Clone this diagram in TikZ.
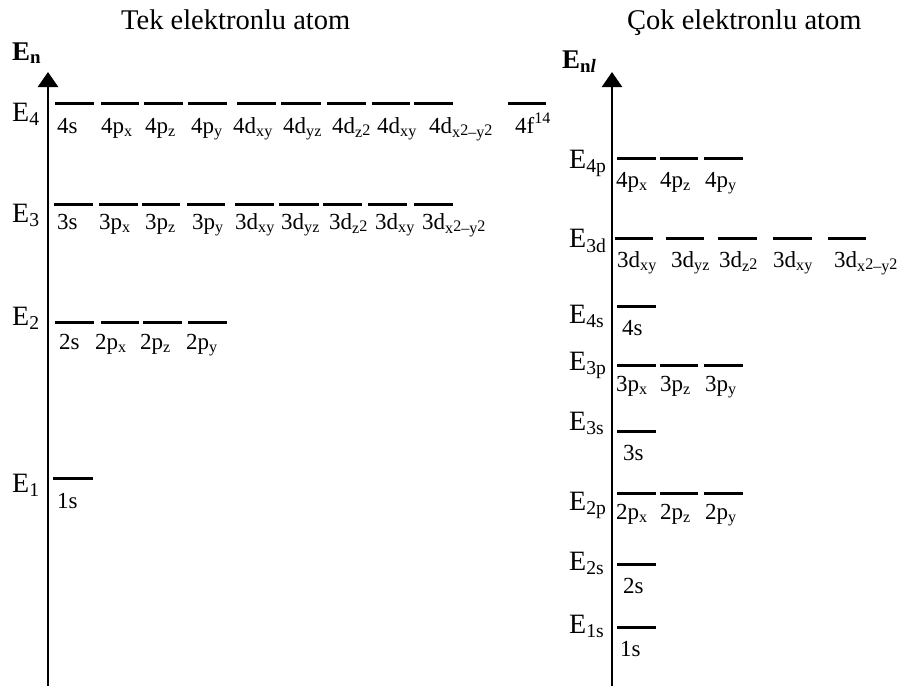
\documentclass[tikz,border=0pt]{standalone}
\usepackage{fontspec}
\setmainfont{Liberation Serif}
\usetikzlibrary{arrows.meta}
\newcommand\lo[1]{\textsubscript{#1}}
\newcommand\hi[1]{\textsuperscript{#1}}
\newcommand\ztw{\lo{z\raisebox{0.15em}{2}}}
\newcommand\xtw{\lo{x\raisebox{0.15em}{2}–y\raisebox{0.15em}{2}}}
\tikzset{
  lvl/.style={line width=3pt},
  axisline/.style={line width=2.4pt,-{Triangle[width=20pt,length=15pt]}},
  orb/.style={anchor=base west,inner sep=0pt,font=\fontsize{23}{27}\selectfont},
  elab/.style={anchor=base west,inner sep=0pt,font=\fontsize{28}{32}\selectfont},
  ttl/.style={anchor=base west,inner sep=0pt,font=\fontsize{28.5}{33}\selectfont},
  axl/.style={anchor=base west,inner sep=0pt,font=\fontsize{27}{31}\selectfont\bfseries}
}
\begin{document}
\begin{tikzpicture}[x=1pt,y=-1pt]
\useasboundingbox (0,0) rectangle (902,686);
% titles
\node[ttl] (t1) at (121,29) {Tek elektronlu atom};
\node[ttl] (t2) at (627,29) {Çok elektronlu atom};
% axes
\coordinate (a1b) at (48,686); \coordinate (a1t) at (48,72);
\coordinate (a2b) at (612,686); \coordinate (a2t) at (612,72);
\draw[axisline] (a1b) -- (a1t);
\draw[axisline] (a2b) -- (a2t);
\node[axl] (en) at (12,60) {E\lo{n}};
\node[axl] (enl) at (562,68) {E\lo{n\textit{l}}};
% left energy labels
\node[elab] (E4) at (12,121) {E\lo{4}};
\node[elab] (E3) at (12,222) {E\lo{3}};
\node[elab] (E2) at (12,325) {E\lo{2}};
\node[elab] (E1) at (12,492) {E\lo{1}};
% left levels
\foreach \a/\b in {55/94,101/139,144/183,188/227,237/276,281/321,327/366,372/410,414/453,508/546}
  \draw[lvl] (\a,103) -- (\b,103);
\foreach \a/\b in {54/93,99/138,142/180,187/225,235/274,279/319,323/362,368/407,414/453}
  \draw[lvl] (\a,204) -- (\b,204);
\foreach \a/\b in {55/94,101/139,143/182,188/227}
  \draw[lvl] (\a,322) -- (\b,322);
\draw[lvl] (53,478) -- (93,478);
% left orbital labels
\foreach \x/\t [count=\i] in {57/4s,101/4p\lo{x},145/4p\lo{z},191/4p\lo{y},233/4d\lo{xy},283/4d\lo{yz},332/4d\ztw,377/4d\lo{xy},429/4d\xtw,515/4f\hi{14}}
  \node[orb] (o4-\i) at (\x,133) {\t};
\foreach \x/\t [count=\i] in {57/3s,99/3p\lo{x},145/3p\lo{z},192/3p\lo{y},235/3d\lo{xy},281/3d\lo{yz},329/3d\ztw,375/3d\lo{xy},422/3d\xtw}
  \node[orb] (o3-\i) at (\x,229) {\t};
\foreach \x/\t [count=\i] in {59/2s,95/2p\lo{x},140/2p\lo{z},186/2p\lo{y}}
  \node[orb] (o2-\i) at (\x,349) {\t};
\node[orb] (o1-1) at (57,508) {1s};
% right energy labels
\node[elab] (R4p) at (569,168) {E\lo{4p}};
\node[elab] (R3d) at (569,247) {E\lo{3d}};
\node[elab] (R4s) at (569,323) {E\lo{4s}};
\node[elab] (R3p) at (569,370) {E\lo{3p}};
\node[elab] (R3s) at (569,430) {E\lo{3s}};
\node[elab] (R2p) at (569,510) {E\lo{2p}};
\node[elab] (R2s) at (569,570) {E\lo{2s}};
\node[elab] (R1s) at (569,633) {E\lo{1s}};
% right levels
\foreach \y in {158,365,493}
  \foreach \a/\b in {617/656,660/698,704/743}
    \draw[lvl] (\a,\y) -- (\b,\y);
\foreach \a/\b in {615/653,666/704,718/757,773/812,828/866}
  \draw[lvl] (\a,238) -- (\b,238);
\foreach \y in {306,431,564,627}
  \draw[lvl] (617,\y) -- (656,\y);
% right orbital labels
\foreach \x/\t [count=\i] in {616/4p\lo{x},660/4p\lo{z},705/4p\lo{y}}
  \node[orb] (r4p-\i) at (\x,187) {\t};
\foreach \x/\t [count=\i] in {617/3d\lo{xy},671/3d\lo{yz},719/3d\ztw,773/3d\lo{xy},834/3d\xtw}
  \node[orb] (r3d-\i) at (\x,267) {\t};
\node[orb] (r4s) at (622,335) {4s};
\foreach \x/\t [count=\i] in {616/3p\lo{x},660/3p\lo{z},705/3p\lo{y}}
  \node[orb] (r3p-\i) at (\x,391) {\t};
\node[orb] (r3s) at (623,460) {3s};
\foreach \x/\t [count=\i] in {616/2p\lo{x},660/2p\lo{z},705/2p\lo{y}}
  \node[orb] (r2p-\i) at (\x,519) {\t};
\node[orb] (r2s) at (623,593) {2s};
\node[orb] (r1s) at (620,656) {1s};
\end{tikzpicture}
\end{document}
